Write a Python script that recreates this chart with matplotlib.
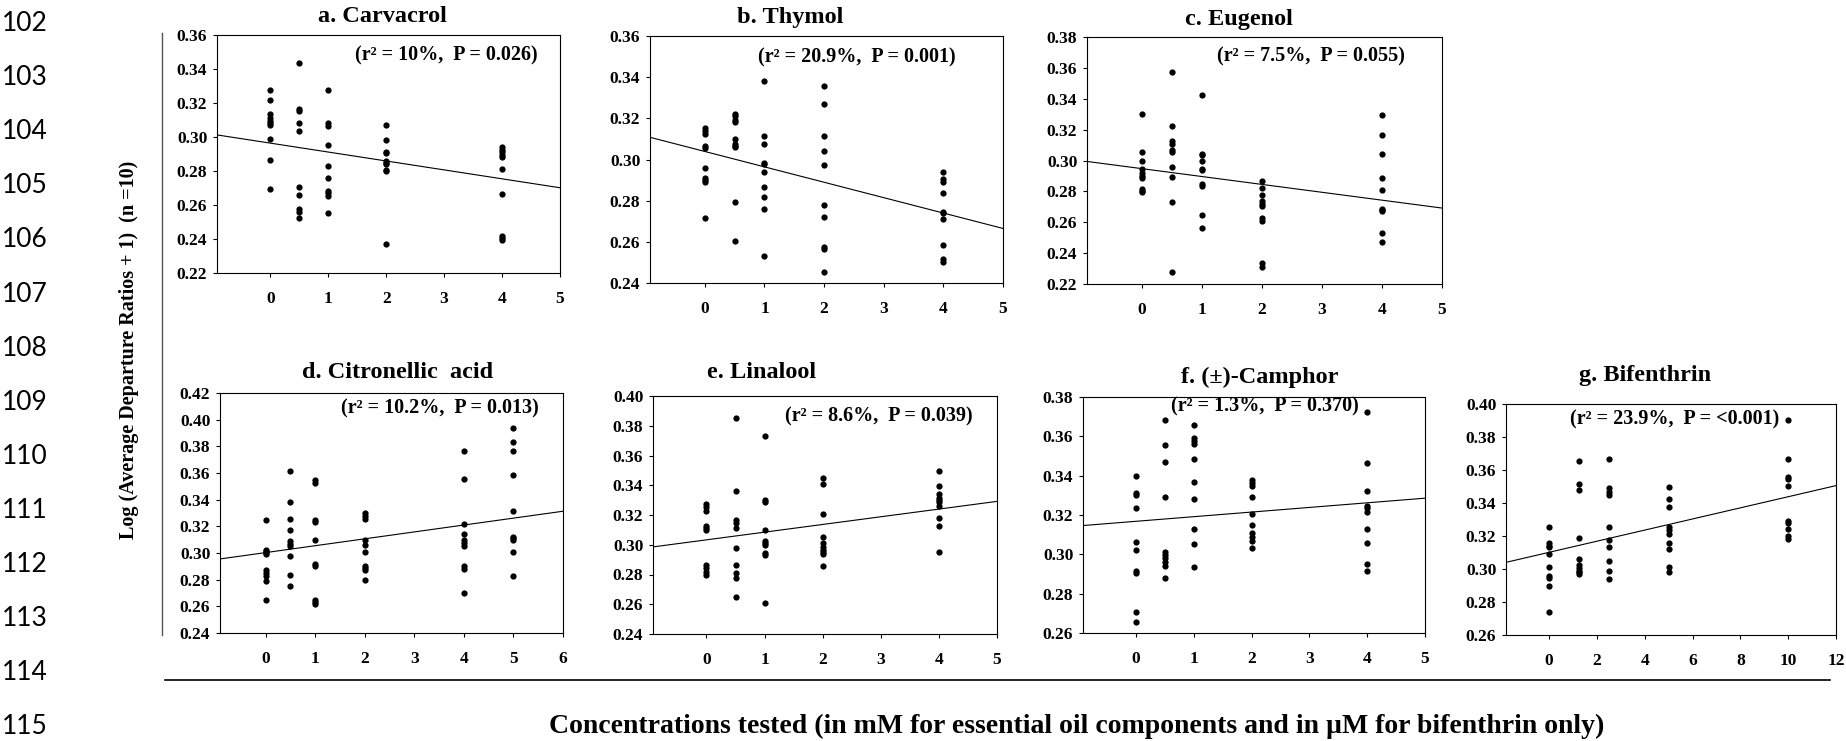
import matplotlib
matplotlib.use("Agg")
import numpy as np
from matplotlib import pyplot as plt

W, H = 1846, 741
SERIF = ["Liberation Serif", "DejaVu Serif"]

# ---- data ----
titles = ["a. Carvacrol", "b. Thymol", "c. Eugenol", "d. Citronellic  acid",
          "e. Linalool", "f. (\u00b1)-Camphor", "g. Bifenthrin"]
stats = ["(r\u00b2 = 10%,  P = 0.026)", "(r\u00b2 = 20.9%,  P = 0.001)",
         "(r\u00b2 = 7.5%,  P = 0.055)", "(r\u00b2 = 10.2%,  P = 0.013)",
         "(r\u00b2 = 8.6%,  P = 0.039)", "(r\u00b2 = 1.3%,  P = 0.370)",
         "(r\u00b2 = 23.9%,  P = <0.001)"]

conc_oil = [0, 0.5, 1, 2, 4]
conc_citro = [0, 0.5, 1, 2, 4, 5]
conc_bif = [0, 1.25, 2.5, 5, 10]

carvacrol = [
    [0.3276, 0.3217, 0.3138, 0.3109, 0.3095, 0.3080, 0.3070, 0.2988, 0.2862, 0.2693],
    [0.3435, 0.3167, 0.3155, 0.3081, 0.3037, 0.2705, 0.2658, 0.2577, 0.2560, 0.2525],
    [0.3274, 0.3081, 0.3066, 0.2953, 0.2829, 0.2761, 0.2682, 0.2668, 0.2652, 0.2555],
    [0.3072, 0.2983, 0.2913, 0.2908, 0.2860, 0.2850, 0.2843, 0.2804, 0.2800, 0.2373],
    [0.2940, 0.2925, 0.2910, 0.2895, 0.2880, 0.2812, 0.2662, 0.2420, 0.2405, 0.2392],
]
thymol = [
    [0.3153, 0.3140, 0.3125, 0.3067, 0.3055, 0.2960, 0.2912, 0.2900, 0.2890, 0.2718],
    [0.3221, 0.3210, 0.3190, 0.3180, 0.3100, 0.3075, 0.3065, 0.3060, 0.2794, 0.2605],
    [0.3379, 0.3113, 0.3073, 0.2984, 0.2976, 0.2939, 0.2866, 0.2819, 0.2761, 0.2529],
    [0.3355, 0.3271, 0.3116, 0.3040, 0.2971, 0.2777, 0.2723, 0.2573, 0.2565, 0.2452],
    [0.2940, 0.2903, 0.2890, 0.2835, 0.2747, 0.2739, 0.2710, 0.2584, 0.2519, 0.2503],
]
eugenol = [
    [0.3304, 0.3056, 0.2998, 0.2944, 0.2922, 0.2901, 0.2886, 0.2815, 0.2805, 0.2797],
    [0.3576, 0.3224, 0.3127, 0.3106, 0.3070, 0.3052, 0.2961, 0.2890, 0.2733, 0.2280],
    [0.3423, 0.3045, 0.3035, 0.2998, 0.2948, 0.2940, 0.2847, 0.2836, 0.2649, 0.2560],
    [0.2868, 0.2819, 0.2778, 0.2739, 0.2720, 0.2707, 0.2625, 0.2610, 0.2334, 0.2312],
    [0.3293, 0.3166, 0.3041, 0.2884, 0.2808, 0.2685, 0.2678, 0.2674, 0.2528, 0.2470],
]
citronellic = [
    [0.3245, 0.3025, 0.3013, 0.3000, 0.2995, 0.2870, 0.2850, 0.2830, 0.2788, 0.2650],
    [0.3613, 0.3383, 0.3255, 0.3170, 0.3088, 0.3070, 0.3050, 0.2975, 0.2833, 0.2750],
    [0.3550, 0.3525, 0.3250, 0.3230, 0.3100, 0.2918, 0.2900, 0.2650, 0.2630, 0.2620],
    [0.3300, 0.3275, 0.3255, 0.3095, 0.3063, 0.3005, 0.2900, 0.2885, 0.2870, 0.2800],
    [0.3763, 0.3558, 0.3220, 0.3143, 0.3095, 0.3075, 0.3050, 0.2900, 0.2880, 0.2700],
    [0.3938, 0.3833, 0.3768, 0.3583, 0.3313, 0.3120, 0.3113, 0.3100, 0.3005, 0.2830],
]
linalool = [
    [0.3274, 0.3256, 0.3229, 0.3126, 0.3110, 0.3099, 0.2865, 0.2842, 0.2820, 0.2798],
    [0.3855, 0.3363, 0.3166, 0.3144, 0.3115, 0.2976, 0.2865, 0.2813, 0.2775, 0.2652],
    [0.3732, 0.3300, 0.3285, 0.3099, 0.3028, 0.3010, 0.2999, 0.2943, 0.2932, 0.2608],
    [0.3452, 0.3408, 0.3207, 0.3055, 0.3010, 0.2988, 0.2965, 0.2938, 0.2860, 0.2950],
    [0.3497, 0.3394, 0.3338, 0.3316, 0.3300, 0.3289, 0.3260, 0.3177, 0.3126, 0.2950],
]
camphor = [
    [0.3399, 0.3310, 0.3301, 0.3234, 0.3061, 0.3022, 0.2913, 0.2904, 0.2707, 0.2656],
    [0.3685, 0.3555, 0.3467, 0.3293, 0.3014, 0.2997, 0.2980, 0.2963, 0.2943, 0.2882],
    [0.3656, 0.3589, 0.3577, 0.3563, 0.3484, 0.3366, 0.3281, 0.3127, 0.3053, 0.2935],
    [0.3377, 0.3364, 0.3347, 0.3293, 0.3205, 0.3149, 0.3107, 0.3090, 0.3070, 0.3031],
    [0.3724, 0.3465, 0.3323, 0.3247, 0.3234, 0.3214, 0.3131, 0.3060, 0.2950, 0.2913],
]
bifenthrin = [
    [0.3257, 0.3156, 0.3142, 0.3131, 0.3091, 0.3010, 0.2958, 0.2944, 0.2899, 0.2741],
    [0.3653, 0.3515, 0.3479, 0.3190, 0.3059, 0.3024, 0.3004, 0.2990, 0.2984, 0.2970],
    [0.3667, 0.3493, 0.3465, 0.3449, 0.3257, 0.3176, 0.3135, 0.3051, 0.2988, 0.2940],
    [0.3495, 0.3424, 0.3378, 0.3253, 0.3236, 0.3212, 0.3156, 0.3119, 0.3014, 0.2984],
    [0.3903, 0.3665, 0.3560, 0.3546, 0.3505, 0.3293, 0.3281, 0.3240, 0.3200, 0.3180],
]

# fitted lines as drawn in the figure
intercepts = [0.2964, 0.3039, 0.2947, 0.3003, 0.3033, 0.3168, 0.3101]
slopes = [-0.00525, -0.00748, -0.0051, 0.00517, 0.00517, 0.00235, 0.00337]

line_numbers = list(range(102, 116))

panels = [
    (conc_oil, carvacrol), (conc_oil, thymol), (conc_oil, eugenol),
    (conc_citro, citronellic), (conc_oil, linalool), (conc_oil, camphor),
    (conc_bif, bifenthrin),
]

# ---- layout (pixels) ----
boxes = [(217, 35, 560, 273), (650, 36, 1003, 283), (1087, 37, 1442, 284),
         (220, 393, 563, 633), (653, 396, 997, 634), (1083, 397, 1425, 633),
         (1506, 404, 1836, 635)]
title_pos = [(382, 16), (790, 17), (1239, 19), (398, 372), (762, 372),
             (1260, 377), (1645, 376)]
stat_pos = [(0.67, 0.915), (0.587, 0.915), (0.63, 0.923), (0.642, 0.937),
            (0.657, 0.912), (0.533, 0.958), (0.512, 0.931)]
ylims = [(0.22, 0.36), (0.24, 0.36), (0.22, 0.38), (0.24, 0.42),
         (0.24, 0.40), (0.26, 0.38), (0.26, 0.40)]
xlims = [(-0.92, 5), (-0.92, 5), (-0.92, 5), (-0.92, 6), (-0.92, 5),
         (-0.92, 5), (-1.8, 12)]
xticks = [range(0, 6), range(0, 6), range(0, 6), range(0, 7), range(0, 6),
          range(0, 6), range(0, 13, 2)]


def fx(x):
    return x / W


def fy(y):
    return 1 - y / H


fig = plt.figure(figsize=(W / 100, H / 100), dpi=100)

for i, (conc, groups) in enumerate(panels):
    x0, y0, x1, y1 = boxes[i]
    ax = fig.add_axes([fx(x0), fy(y1), fx(x1 - x0), (y1 - y0) / H])
    for c, vals in zip(conc, groups):
        ax.plot([c] * len(vals), vals, 'o', color='black', markersize=4.5,
                markeredgewidth=0, clip_on=False)
    xs = np.array(xlims[i])
    ax.plot(xs, intercepts[i] + slopes[i] * xs, color='black', linewidth=0.8)
    ax.set_xlim(*xlims[i])
    ax.set_ylim(*ylims[i])
    ax.set_xticks(list(xticks[i]))
    lo, hi = ylims[i]
    ax.set_yticks(np.arange(lo, hi + 0.001, 0.02))
    ax.yaxis.set_major_formatter(matplotlib.ticker.FormatStrFormatter('%.2f'))
    ax.tick_params(direction='out', length=3, width=0.8)
    ax.tick_params(axis='x', pad=10)
    ax.tick_params(axis='y', pad=4)
    for lab in ax.get_xticklabels() + ax.get_yticklabels():
        lab.set_family(SERIF)
        lab.set_fontweight('bold')
        lab.set_fontsize(12.5)
    for sp in ax.spines.values():
        sp.set_linewidth(0.8)
    ax.text(stat_pos[i][0], stat_pos[i][1], stats[i], transform=ax.transAxes,
            ha='center', va='center', family=SERIF, fontweight='bold', fontsize=14.5)
    tx, ty = title_pos[i]
    fig.text(fx(tx), fy(ty), titles[i], ha='center', va='center',
             family=SERIF, fontweight='bold', fontsize=17.5)

# shared axis labels and rules
fig.text(fx(129), fy(350), "Log (Average Departure Ratios + 1)  (n =10)",
         rotation=90, ha='center', va='center', family=SERIF,
         fontweight='bold', fontsize=14.5)
fig.add_artist(plt.Line2D([fx(162), fx(162)], [fy(33), fy(635)],
                          color='#555555', linewidth=1))
fig.add_artist(plt.Line2D([fx(165), fx(1830)], [fy(680), fy(680)],
                          color='black', linewidth=1.2))
fig.text(fx(1077), fy(726),
         "Concentrations tested (in mM for essential oil components and in \u00b5M for bifenthrin only)",
         ha='center', va='center', family=SERIF, fontweight='bold', fontsize=20)

# manuscript line numbers
for k, n in enumerate(line_numbers):
    fig.text(fx(2), fy(23.5 + 54.1 * k), str(n), ha='left', va='center',
             family=['Lato', 'DejaVu Sans'], fontsize=19)

fig.savefig("out.png", dpi=100)
